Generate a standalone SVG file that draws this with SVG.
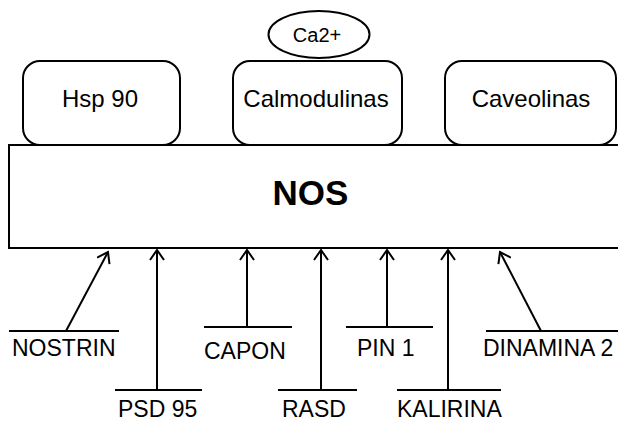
<svg xmlns="http://www.w3.org/2000/svg" width="618" height="421" viewBox="0 0 618 421">
<defs>
<style>
.s{fill:#fff;stroke:#000;stroke-width:2}
.l{fill:none;stroke:#000;stroke-width:2}
.t{font-family:"Liberation Sans",Arial,sans-serif;font-size:23px;fill:#000}
.b{font-family:"Liberation Sans",Arial,sans-serif;font-size:24px;fill:#000;text-anchor:middle}
</style>
<marker id="ah" markerWidth="16" markerHeight="16" refX="12" refY="8" orient="auto" markerUnits="userSpaceOnUse">
<polyline points="2,1 12,8 2,15" fill="none" stroke="#000" stroke-width="2"/>
</marker>
</defs>
<rect width="618" height="421" fill="#fff"/>
<g id="nos">
<rect class="s" x="9" y="145" width="620" height="103"/>
<text x="310.5" y="205" font-family="Liberation Sans,Arial,sans-serif" font-size="35" font-weight="bold" text-anchor="middle">NOS</text>
</g>
<g id="hsp90">
<rect class="s" x="23" y="61" width="157" height="84" rx="17"/>
<text class="b" x="100" y="107">Hsp 90</text>
</g>
<g id="calmodulinas">
<rect class="s" x="233" y="61" width="169" height="84" rx="17"/>
<text class="b" x="316" y="107">Calmodulinas</text>
</g>
<g id="caveolinas">
<rect class="s" x="445" y="61" width="171" height="84" rx="17"/>
<text class="b" x="531" y="107">Caveolinas</text>
</g>
<g id="ca2">
<ellipse class="s" cx="319" cy="34.5" rx="50.5" ry="23.5"/>
<text x="317" y="42" font-family="Liberation Sans,Arial,sans-serif" font-size="20" text-anchor="middle">Ca2+</text>
</g>
<g id="connectors">
<path class="l" d="M66,331 L108,252" marker-end="url(#ah)"/>
<path class="l" d="M157,390 L157,250" marker-end="url(#ah)"/>
<path class="l" d="M247,327 L247,250" marker-end="url(#ah)"/>
<path class="l" d="M321,390 L321,250" marker-end="url(#ah)"/>
<path class="l" d="M387,327 L387,250" marker-end="url(#ah)"/>
<path class="l" d="M448,390 L448,250" marker-end="url(#ah)"/>
<path class="l" d="M541,331 L500,252" marker-end="url(#ah)"/>
</g>
<g id="nostrin"><path class="l" d="M9,331 H119"/><text class="t" x="12" y="356">NOSTRIN</text></g>
<g id="psd95"><path class="l" d="M115,390 H202"/><text class="t" x="118" y="417">PSD 95</text></g>
<g id="capon"><path class="l" d="M204,327 H292"/><text class="t" x="204" y="359">CAPON</text></g>
<g id="rasd"><path class="l" d="M278,390 H357"/><text class="t" x="282" y="417">RASD</text></g>
<g id="pin1"><path class="l" d="M346,327 H433"/><text class="t" x="357" y="356">PIN 1</text></g>
<g id="kalirina"><path class="l" d="M397,390 H501"/><text class="t" x="397" y="417">KALIRINA</text></g>
<g id="dinamina2"><path class="l" d="M486,331 H618"/><text class="t" x="483" y="356">DINAMINA 2</text></g>
</svg>
